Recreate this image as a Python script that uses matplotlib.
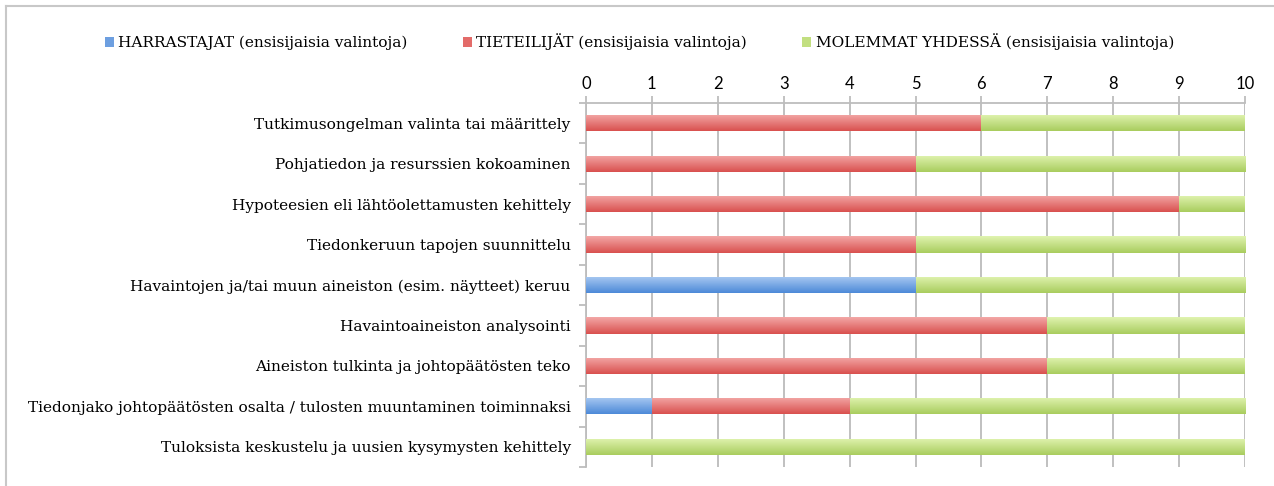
import matplotlib
matplotlib.use("Agg")
import matplotlib.pyplot as plt
import numpy as np
from matplotlib.colors import LinearSegmentedColormap
from matplotlib.lines import Line2D
from matplotlib.patches import Patch

categories = [
    "Tutkimusongelman valinta tai määrittely",
    "Pohjatiedon ja resurssien kokoaminen",
    "Hypoteesien eli lähtöolettamusten kehittely",
    "Tiedonkeruun tapojen suunnittelu",
    "Havaintojen ja/tai muun aineiston (esim. näytteet) keruu",
    "Havaintoaineiston analysointi",
    "Aineiston tulkinta ja johtopäätösten teko",
    "Tiedonjako johtopäätösten osalta / tulosten muuntaminen toiminnaksi",
    "Tuloksista keskustelu ja uusien kysymysten kehittely",
]
harrastajat = [0, 0, 0, 0, 5, 0, 0, 1, 0]
tieteilijat = [6, 5, 9, 5, 0, 7, 7, 3, 0]
molemmat = [4, 5, 1, 5, 5, 3, 3, 6, 10]
series_names = [
    "HARRASTAJAT (ensisijaisia valintoja)",
    "TIETEILIJÄT (ensisijaisia valintoja)",
    "MOLEMMAT YHDESSÄ (ensisijaisia valintoja)",
]
x_ticks = list(range(0, 11))

serif = "DejaVu Serif"
label_fs = 11.1

colors_mid = ["#6d9fe0", "#e36b69", "#c2df80"]
grads = [("#a9c9f2", "#4d8ad8"), ("#f3a7a6", "#d9514f"), ("#e0f3b0", "#a9cd5e")]

fig = plt.figure(figsize=(12.74, 4.86), dpi=100)
ax = fig.add_axes([586 / 1274, 1 - 467 / 486, (1245 - 586) / 1274, (467 - 103) / 486])

y = np.arange(len(categories))
left = np.zeros(len(categories))
for vals, col, (c_top, c_bot) in zip([harrastajat, tieteilijat, molemmat], colors_mid, grads):
    bars = ax.barh(y, vals, left=left, height=0.4, color=col, zorder=3, linewidth=0)
    cmap = LinearSegmentedColormap.from_list("g", [c_top, c_bot])
    for b in bars:
        if b.get_width() <= 0:
            continue
        x0, y0, w, h = b.get_x(), b.get_y(), b.get_width(), b.get_height()
        im = ax.imshow(np.linspace(0, 1, 50).reshape(-1, 1), cmap=cmap, aspect="auto",
                       extent=(x0, x0 + w, y0 + h, y0), zorder=3.5, interpolation="bilinear")
        im.set_clip_path(b)
    left += np.array(vals)

ax.set_xlim(0, 10)
ax.set_ylim(len(categories) - 0.5, -0.5)
ax.set_aspect("auto")
ax.xaxis.tick_top()
ax.set_xticks(x_ticks)
ax.set_xticklabels([str(t) for t in x_ticks], fontsize=12, family="Lato")
ax.tick_params(axis="x", length=5, color="#bdbdbd", width=1.3, pad=3)
ax.set_yticks(y)
ax.set_yticklabels(categories, fontsize=label_fs, family=serif)
ax.set_yticks(np.arange(len(categories) + 1) - 0.5, minor=True)
ax.tick_params(axis="y", which="major", length=0, pad=11)
ax.tick_params(axis="y", which="minor", length=5, color="#bdbdbd", width=1.3)
ax.grid(axis="x", color="#c0c0c0", linewidth=1.4, zorder=0)
for s in ["right", "bottom"]:
    ax.spines[s].set_visible(False)
for s in ["top", "left"]:
    ax.spines[s].set_color("#bdbdbd")
    ax.spines[s].set_linewidth(1.3)

handles = [Patch(facecolor=c, edgecolor="none") for c in colors_mid]
leg = fig.legend(handles, series_names, loc="center", bbox_to_anchor=(0.502, 1 - 42 / 486),
                 ncol=3, frameon=False, prop={"family": serif, "size": label_fs},
                 handlelength=0.55, handleheight=0.55, handletextpad=0.3, columnspacing=3.6)

# outer frame lines (top and left)
fig.add_artist(Line2D([6.5 / 1274, 6.5 / 1274], [0, 1 - 6.5 / 486], transform=fig.transFigure,
                      color="#c8c8c8", linewidth=1.5))
fig.add_artist(Line2D([6.5 / 1274, 1], [1 - 6.5 / 486, 1 - 6.5 / 486], transform=fig.transFigure,
                      color="#c8c8c8", linewidth=1.5))

fig.savefig("out.png", dpi=100)
